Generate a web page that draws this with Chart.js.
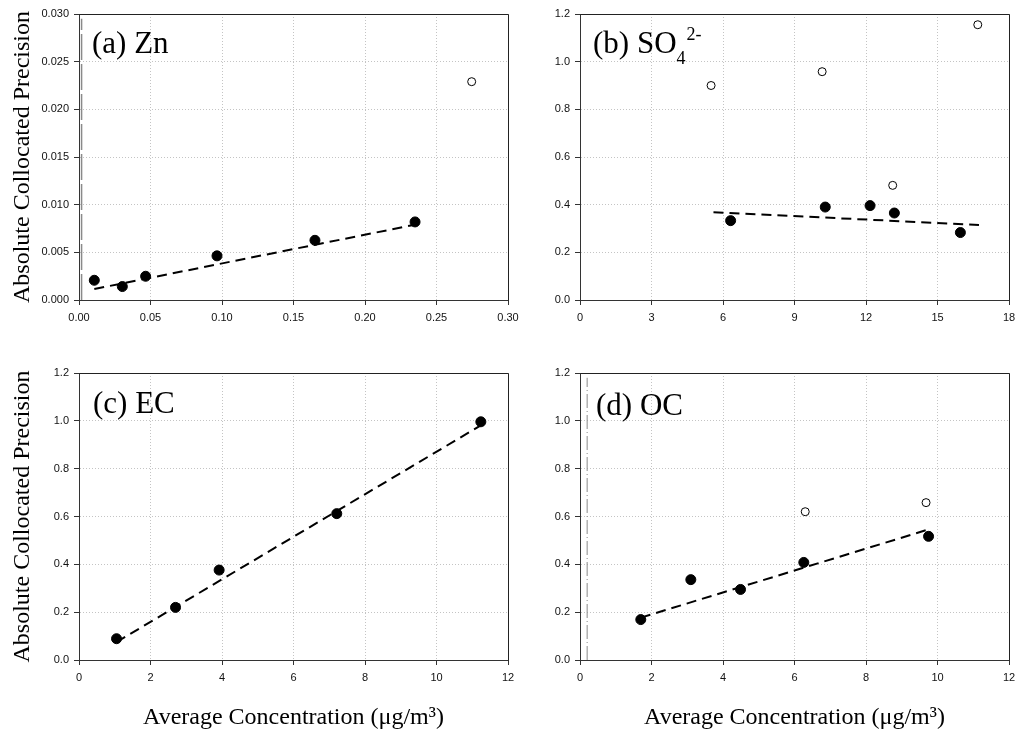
<!DOCTYPE html>
<html>
<head>
<meta charset="utf-8">
<title>Absolute collocated precision vs. average concentration</title>
<script src="https://cdn.jsdelivr.net/npm/chart.js"></script>
<style>
  body { margin: 0; background: #fff; }
  #wrap { position: relative; width: 1016px; height: 734px; overflow: hidden; }
  #wrap canvas { position: absolute; }
</style>
</head>
<body>
<div id="wrap">
  <canvas id="chartZn" width="540" height="340" style="left:0px;top:0px"></canvas>
  <canvas id="chartSO4" width="540" height="340" style="left:500px;top:0px"></canvas>
  <canvas id="chartEC" width="540" height="394" style="left:0px;top:340px"></canvas>
  <canvas id="chartOC" width="540" height="394" style="left:500px;top:340px"></canvas>
</div>
<script>
// (a) Zn
const znX = [0.0107, 0.0303, 0.0466, 0.0965, 0.165, 0.235];
const znY = [0.00207, 0.00141, 0.00249, 0.00463, 0.00626, 0.00819];
const znOutX = [0.2746];
const znOutY = [0.0229];
const znFitX = [0.0107, 0.235];
const znFitY = [0.00115, 0.0079];
const znRefX = [0.0018, 0.0018];
const znRefY = [0, 0.0295];
const znXTicks = [0, 0.05, 0.10, 0.15, 0.20, 0.25, 0.30];
const znYTicks = [0, 0.005, 0.010, 0.015, 0.020, 0.025, 0.030];

// (b) SO4 2-
const so4X = [6.32, 10.29, 12.17, 13.19, 15.96];
const so4Y = [0.333, 0.390, 0.396, 0.365, 0.283];
const so4OutX = [5.50, 10.16, 13.12, 16.69];
const so4OutY = [0.900, 0.958, 0.481, 1.155];
const so4FitX = [5.6, 16.74];
const so4FitY = [0.368, 0.315];
const so4XTicks = [0, 3, 6, 9, 12, 15, 18];
const so4YTicks = [0, 0.2, 0.4, 0.6, 0.8, 1.0, 1.2];

// (c) EC
const ecX = [1.05, 2.70, 3.92, 7.21, 11.24];
const ecY = [0.089, 0.220, 0.376, 0.612, 0.996];
const ecFitX = [1.05, 11.24];
const ecFitY = [0.075, 0.981];
const ecXTicks = [0, 2, 4, 6, 8, 10, 12];
const ecYTicks = [0, 0.2, 0.4, 0.6, 0.8, 1.0, 1.2];

// (d) OC
const ocX = [1.70, 3.10, 4.49, 6.26, 9.75];
const ocY = [0.169, 0.336, 0.295, 0.408, 0.517];
const ocOutX = [6.30, 9.68];
const ocOutY = [0.620, 0.658];
const ocFitX = [1.70, 9.75];
const ocFitY = [0.177, 0.546];
const ocRefX = [0.2, 0.2];
const ocRefY = [0, 1.18];
const ocXTicks = [0, 2, 4, 6, 8, 10, 12];
const ocYTicks = [0, 0.2, 0.4, 0.6, 0.8, 1.0, 1.2];

const yTitleText = 'Absolute Collocated Precision';
const xTitleText = 'Average Concentration (\u03bcg/m\u00b3)';

const SERIF = "'Liberation Serif', 'Times New Roman', serif";
const SANS = "'Liberation Sans', Arial, sans-serif";

function pts(xs, ys) {
  return xs.map((x, i) => ({ x: x, y: ys[i] }));
}

// panel caption "(a) Zn" etc., drawn as text runs with sub/superscripts
function captionPlugin(runs, dx, dy) {
  return {
    id: 'caption',
    afterDraw(chart) {
      const ctx = chart.ctx;
      const area = chart.chartArea;
      let x = area.left + dx;
      const base = area.top + dy;
      ctx.save();
      ctx.fillStyle = '#000';
      ctx.textBaseline = 'alphabetic';
      ctx.textAlign = 'left';
      runs.forEach(r => {
        ctx.font = r.size + 'px ' + SERIF;
        ctx.fillText(r.text, x + (r.gap || 0), base + (r.shift || 0));
        x += (r.gap || 0) + ctx.measureText(r.text).width;
      });
      ctx.restore();
    }
  };
}

// top and right edges of the plot frame
const framePlugin = {
  id: 'frame',
  afterDatasetsDraw(chart) {
    const ctx = chart.ctx;
    const a = chart.chartArea;
    ctx.save();
    ctx.strokeStyle = '#222';
    ctx.lineWidth = 1;
    ctx.beginPath();
    ctx.moveTo(Math.round(a.left) + 0.5, Math.round(a.top) + 0.5);
    ctx.lineTo(Math.round(a.right) + 0.5, Math.round(a.top) + 0.5);
    ctx.lineTo(Math.round(a.right) + 0.5, Math.round(a.bottom) + 0.5);
    ctx.stroke();
    ctx.restore();
  }
};

function makeAxis(ticks, dec, fixedSize, horizontal, title) {
  const axis = {
    type: 'linear',
    min: ticks[0],
    max: ticks[ticks.length - 1],
    afterBuildTicks: s => { s.ticks = ticks.map(v => ({ value: v })); },
    afterFit: s => {
      if (horizontal) s.height = fixedSize; else s.width = fixedSize;
    },
    ticks: {
      color: '#111',
      font: { family: SANS, size: 11 },
      padding: horizontal ? 6 : 5,
      callback: v => Number(v).toFixed(dec)
    },
    grid: {
      color: '#c4c4c4',
      lineWidth: 1,
      tickColor: '#333',
      tickLength: 5,
      tickWidth: 1,
      tickBorderDash: []
    },
    border: { color: '#333', width: 1, dash: [1, 2] }
  };
  if (title) {
    axis.title = {
      display: true,
      text: title,
      color: '#000',
      font: { family: SERIF, size: 24, weight: 'normal' },
      padding: horizontal ? { top: 0, bottom: 2 } : { top: 8, bottom: 0 }
    };
  }
  return axis;
}

function makePanel(id, p) {
  const datasets = [
    {
      data: pts(p.x, p.y),
      pointRadius: 5,
      pointBackgroundColor: '#000',
      pointBorderColor: '#000',
      pointBorderWidth: 1,
      order: 0
    },
    {
      data: pts(p.fitX, p.fitY),
      showLine: true,
      borderColor: '#000',
      borderWidth: 2,
      borderDash: [10, 6],
      pointRadius: 0,
      order: 2
    }
  ];
  if (p.outX) {
    datasets.push({
      data: pts(p.outX, p.outY),
      pointRadius: 4,
      pointBackgroundColor: '#fff',
      pointBorderColor: '#000',
      pointBorderWidth: 1,
      order: 1
    });
  }
  if (p.refX) {
    datasets.push({
      data: pts(p.refX, p.refY),
      showLine: true,
      borderColor: '#8a8a8a',
      borderWidth: p.refWidth,
      borderDash: p.refDash,
      pointRadius: 0,
      order: 3
    });
  }
  return new Chart(document.getElementById(id), {
    type: 'scatter',
    data: { datasets: datasets },
    options: {
      responsive: false,
      animation: false,
      events: [],
      layout: { padding: p.padding, autoPadding: false },
      plugins: { legend: { display: false }, tooltip: { enabled: false } },
      scales: {
        x: makeAxis(p.xTicks, p.xDec, p.xHeight, true, p.xTitle),
        y: makeAxis(p.yTicks, p.yDec, p.yWidth, false, p.yTitle)
      }
    },
    plugins: [framePlugin, captionPlugin(p.caption, p.capDx, p.capDy)]
  });
}

makePanel('chartZn', {
  x: znX, y: znY, outX: znOutX, outY: znOutY, fitX: znFitX, fitY: znFitY,
  refX: znRefX, refY: znRefY, refWidth: 1.5, refDash: [26, 4],
  xTicks: znXTicks, yTicks: znYTicks, xDec: 2, yDec: 3,
  padding: { left: 0, top: 14, right: 32, bottom: 0 }, yWidth: 79, xHeight: 40,
  yTitle: yTitleText,
  caption: [{ text: '(a) Zn', size: 31 }], capDx: 13, capDy: 39
});

makePanel('chartSO4', {
  x: so4X, y: so4Y, outX: so4OutX, outY: so4OutY, fitX: so4FitX, fitY: so4FitY,
  xTicks: so4XTicks, yTicks: so4YTicks, xDec: 0, yDec: 1,
  padding: { left: 0, top: 14, right: 31, bottom: 0 }, yWidth: 80, xHeight: 40,
  caption: [
    { text: '(b) SO', size: 31 },
    { text: '4', size: 18, shift: 11 },
    { text: '2-', size: 18, shift: -13, gap: 1 }
  ], capDx: 13, capDy: 39
});

makePanel('chartEC', {
  x: ecX, y: ecY, fitX: ecFitX, fitY: ecFitY,
  xTicks: ecXTicks, yTicks: ecYTicks, xDec: 0, yDec: 1,
  padding: { left: 0, top: 33, right: 32, bottom: 0 }, yWidth: 79, xHeight: 74,
  yTitle: yTitleText, xTitle: xTitleText,
  caption: [{ text: '(c) EC', size: 31 }], capDx: 14, capDy: 40
});

makePanel('chartOC', {
  x: ocX, y: ocY, outX: ocOutX, outY: ocOutY, fitX: ocFitX, fitY: ocFitY,
  refX: ocRefX, refY: ocRefY, refWidth: 1, refDash: [14, 3, 1, 3],
  xTicks: ocXTicks, yTicks: ocYTicks, xDec: 0, yDec: 1,
  padding: { left: 0, top: 33, right: 31, bottom: 0 }, yWidth: 80, xHeight: 74,
  xTitle: xTitleText,
  caption: [{ text: '(d) OC', size: 31 }], capDx: 16, capDy: 42
});
</script>
</body>
</html>
